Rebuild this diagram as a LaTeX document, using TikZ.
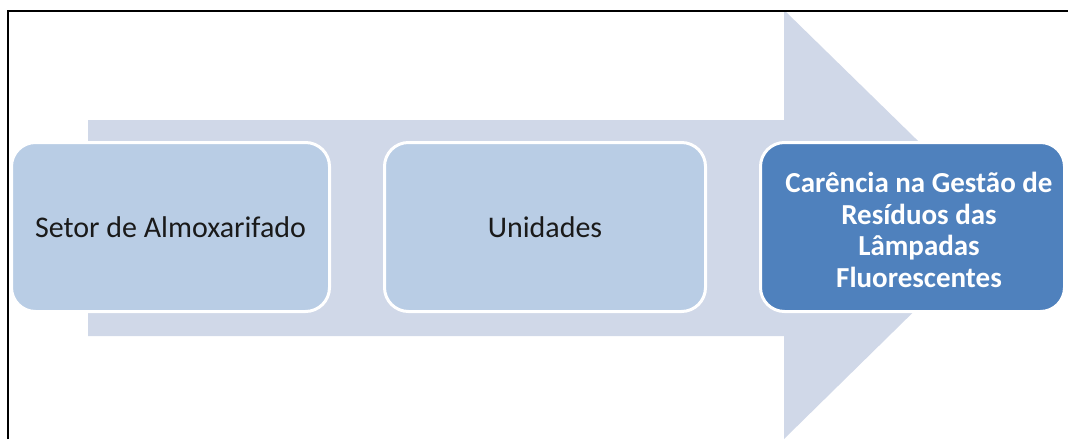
\documentclass[tikz,border=0pt]{standalone}
\usepackage{fontspec}
\setmainfont{Carlito}
\definecolor{arrowfill}{HTML}{D0D8E8}
\definecolor{lightbox}{HTML}{B9CDE5}
\definecolor{darkbox}{HTML}{4F81BD}
\definecolor{textdark}{HTML}{1A1A1A}
\tikzset{
  stagebox/.style={draw=white, line width=3pt, rounded corners=24pt,
    minimum height=169pt, inner sep=0pt, align=center},
  lightstage/.style={stagebox, fill=lightbox, text=textdark,
    font=\fontsize{30}{36}\selectfont},
  darkstage/.style={stagebox, fill=darkbox, text=white,
    font=\bfseries\fontsize{29}{31.5}\selectfont},
}
\begin{document}
\begin{tikzpicture}[x=1pt, y=-1pt]
  \useasboundingbox (0,0) rectangle (1068,439);
  \fill[white] (0,0) rectangle (1068,439);

  % broad process arrow behind the stages
  \fill[arrowfill] (88,120) -- (784,120) -- (784,10) -- (1003,224)
    -- (784,439) -- (784,336) -- (88,336) -- cycle;

  % frame (left and top edges)
  \draw[black, line width=2pt] (8,439) -- (8,11) -- (1068,11);

  % stages
  \node[lightstage, minimum width=318pt] (almox) at (170.5,227)
    {Setor de Almoxarifado};
  \node[lightstage, minimum width=321pt] (unid) at (545,227)
    {Unidades};
  \node[darkstage, minimum width=304pt] (gestao) at (912.5,227) {};
  \node[text=white, font=\bfseries\fontsize{29}{31.5}\selectfont,
    align=center, inner sep=0pt] (gestaotxt) at (919,230)
    {Carência na Gestão de\\Resíduos das\\Lâmpadas\\Fluorescentes};
\end{tikzpicture}
\end{document}
